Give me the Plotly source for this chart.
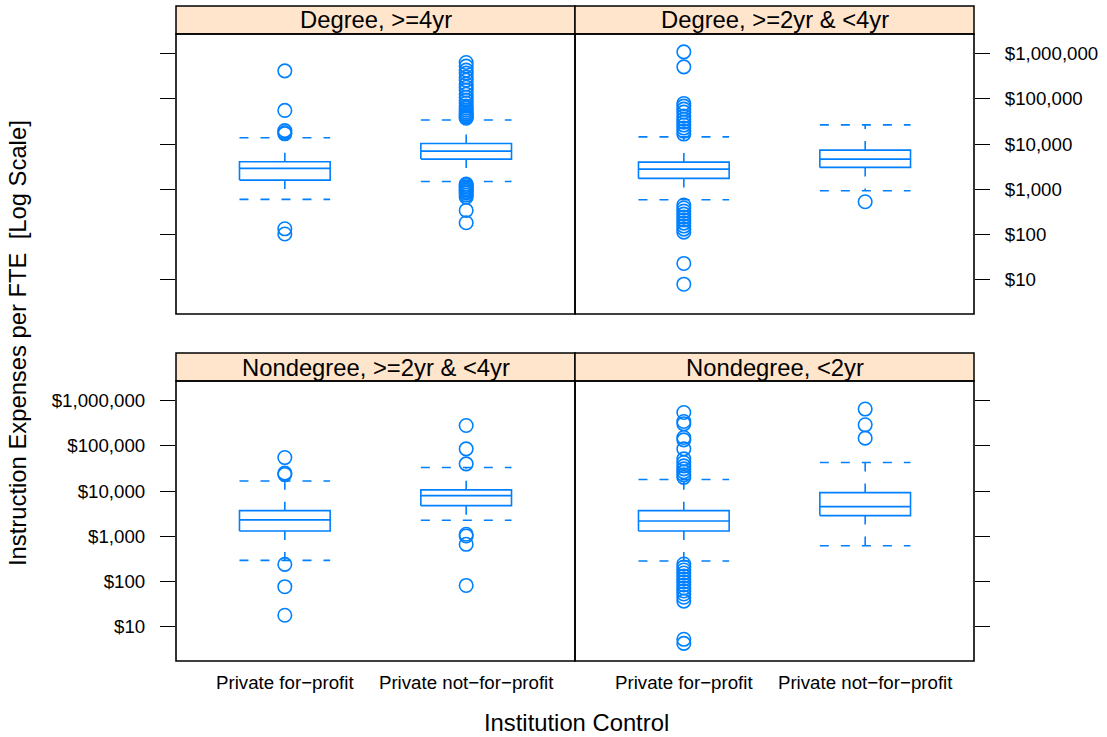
import plotly.graph_objects as go

# ---------------- data ----------------
panels = ["Degree, >=4yr", "Degree, >=2yr & <4yr",
          "Nondegree, >=2yr & <4yr", "Nondegree, <2yr"]
controls = ["Private for\u2212profit", "Private not\u2212for\u2212profit"]
tick_vals = [10, 100, 1000, 10000, 100000, 1000000]
tick_text = ["$10", "$100", "$1,000", "$10,000", "$100,000", "$1,000,000"]

# box statistics per panel: [for-profit, not-for-profit]
q1 = [[1596, 4640], [1740, 3040], [1310, 4750], [1310, 2860]]
median = [[2890, 6970], [2790, 4640], [2300, 7910], [2180, 4520]]
q3 = [[4045, 10300], [3980, 7330], [3680, 10600], [3680, 9220]]
whisker_low = [[598, 1490], [586, 927], [294, 2260], [284, 620]]
whisker_high = [[13700, 33900], [14400, 26500], [16700, 33000], [17900, 42500]]

out_deg4_fp = [413000, 55200, 19800, 17900, 16800, 134, 103]
out_deg4_nfp = [632000, 525000, 428000, 367000, 300000, 258000, 210000, 180000,
                155000, 126000, 108000, 93000, 80000, 68700, 62000, 56000,
                50600, 45700, 42300, 39200, 37200,
                1300, 1208, 1119, 1036, 960, 889, 824, 745, 673, 342, 182]
out_deg2_fp = [1085000, 506000, 78700, 68700, 58900, 50600, 41400, 35500,
               30500, 26200, 22500, 19300, 16600,
               448, 385, 330, 283, 243, 209, 179, 154, 132, 113, 23, 8]
out_deg2_nfp = [530]
out_non2_fp = [54800, 24800, 23100, 240, 77, 18]
out_non2_nfp = [280000, 85300, 39800, 1107, 1016, 665, 82]
out_lt2_fp = [543000, 343000, 305000, 152000, 135000, 85300, 51300, 42500,
              35900, 30800, 26500, 22700, 20000,
              244, 209, 180, 154, 132, 114, 98, 84, 72, 62, 53, 45, 37, 5.3, 4.3]
out_lt2_nfp = [646000, 290000, 147000]

outliers = [[out_deg4_fp, out_deg4_nfp], [out_deg2_fp, out_deg2_nfp],
            [out_non2_fp, out_non2_nfp], [out_lt2_fp, out_lt2_nfp]]

# ---------------- styling / layout ----------------
W, H = 1107, 737
BLUE = "#0080ff"
STRIP = "#ffe5cc"
FONT = "Liberation Sans, Arial, Helvetica, sans-serif"
LW = 1.6
DASH = "9px,12px"
HALF = 0.25
TICKFONT = 18.7
TITLEFONT = 23.8

# panel pixel boxes: (left, right, top, bottom)
px = [(176, 575, 34, 314), (575, 974, 34, 314),
      (176, 575, 381, 661), (575, 974, 381, 661)]
strip_px = [(6, 34), (6, 34), (353, 381), (353, 381)]

fig = go.Figure()

for i in range(4):
    ax = "" if i == 0 else str(i + 1)
    for j in range(2):
        p = j + 1
        kw = dict(xaxis="x" + ax, yaxis="y" + ax, showlegend=False,
                  hoverinfo="skip")
        solid = dict(color=BLUE, width=LW)
        dashed = dict(color=BLUE, width=LW, dash=DASH)
        # box
        fig.add_trace(go.Scatter(
            x=[p - HALF, p + HALF, p + HALF, p - HALF, p - HALF],
            y=[q1[i][j], q1[i][j], q3[i][j], q3[i][j], q1[i][j]],
            mode="lines", line=solid, **kw))
        # median
        fig.add_trace(go.Scatter(x=[p - HALF, p + HALF],
                                 y=[median[i][j], median[i][j]],
                                 mode="lines", line=solid, **kw))
        # whiskers (start at the box)
        fig.add_trace(go.Scatter(x=[p, p], y=[q3[i][j], whisker_high[i][j]],
                                 mode="lines", line=dashed, **kw))
        fig.add_trace(go.Scatter(x=[p, p], y=[q1[i][j], whisker_low[i][j]],
                                 mode="lines", line=dashed, **kw))
        # caps
        fig.add_trace(go.Scatter(x=[p - HALF, p + HALF],
                                 y=[whisker_high[i][j]] * 2,
                                 mode="lines", line=dashed, **kw))
        fig.add_trace(go.Scatter(x=[p - HALF, p + HALF],
                                 y=[whisker_low[i][j]] * 2,
                                 mode="lines", line=dashed, **kw))
        # outliers
        fig.add_trace(go.Scatter(
            x=[p] * len(outliers[i][j]), y=outliers[i][j], mode="markers",
            marker=dict(symbol="circle-open", size=13.5, color=BLUE,
                        line=dict(color=BLUE, width=LW)), **kw))

layout = dict(width=W, height=H, autosize=False,
              margin=dict(l=0, r=0, t=0, b=0),
              paper_bgcolor="white", plot_bgcolor="white",
              font=dict(family=FONT, color="black", size=TICKFONT))

for i in range(4):
    l, r, t, b = px[i]
    ax = "" if i == 0 else str(i + 1)
    bottom_row = i >= 2
    left_col = i % 2 == 0
    layout["xaxis" + ax] = dict(
        domain=[l / W, r / W], anchor="y" + ax, range=[0.4, 2.6],
        tickvals=[1, 2], ticktext=controls, showticklabels=bottom_row,
        ticks="", showgrid=False, zeroline=False, showline=False,
        ticklabelstandoff=8, tickfont=dict(size=TICKFONT, family=FONT))
    show_labels = (i == 1) or (i == 2)
    layout["yaxis" + ax] = dict(
        domain=[1 - b / H, 1 - t / H], anchor="x" + ax, type="log",
        range=[0.245, 6.43], tickvals=tick_vals, ticktext=tick_text,
        showticklabels=show_labels, side="left" if left_col else "right",
        ticks="outside", ticklen=15, tickwidth=1.4, tickcolor="black",
        showgrid=False, zeroline=False, showline=False,
        ticklabelstandoff=11, tickfont=dict(size=TICKFONT, family=FONT))

shapes = []
annotations = []
for i in range(4):
    l, r, t, b = px[i]
    st, sb = strip_px[i]
    shapes.append(dict(type="rect", xref="paper", yref="paper",
                       x0=l / W, x1=r / W, y0=1 - sb / H, y1=1 - st / H,
                       fillcolor=STRIP, line=dict(color="black", width=1.5),
                       layer="below"))
    shapes.append(dict(type="rect", xref="paper", yref="paper",
                       x0=l / W, x1=r / W, y0=1 - b / H, y1=1 - t / H,
                       line=dict(color="black", width=1.6),
                       fillcolor="rgba(0,0,0,0)", layer="above"))
    annotations.append(dict(text=panels[i], xref="paper", yref="paper",
                            x=(l + r) / 2 / W, y=1 - (st + sb) / 2 / H,
                            xanchor="center", yanchor="middle",
                            showarrow=False,
                            font=dict(size=TITLEFONT, family=FONT,
                                      color="black")))

annotations.append(dict(text="Institution Control", xref="paper",
                        yref="paper", x=576 / W, y=1 - 737 / H,
                        xanchor="center", yanchor="bottom", showarrow=False,
                        borderpad=0,
                        font=dict(size=TITLEFONT, family=FONT, color="black")))
annotations.append(dict(text="Instruction Expenses per FTE\u00a0 [Log Scale]",
                        xref="paper", yref="paper", x=17 / W, y=1 - 343 / H,
                        xanchor="center", yanchor="middle", textangle=-90,
                        showarrow=False,
                        font=dict(size=TITLEFONT, family=FONT, color="black")))

layout["shapes"] = shapes
layout["annotations"] = annotations
fig.update_layout(**layout)

fig.write_html(
    "out.html",
    config={"displayModeBar": False},
    post_script="document.body.style.margin='0';"
                "document.body.style.overflow='hidden';")
